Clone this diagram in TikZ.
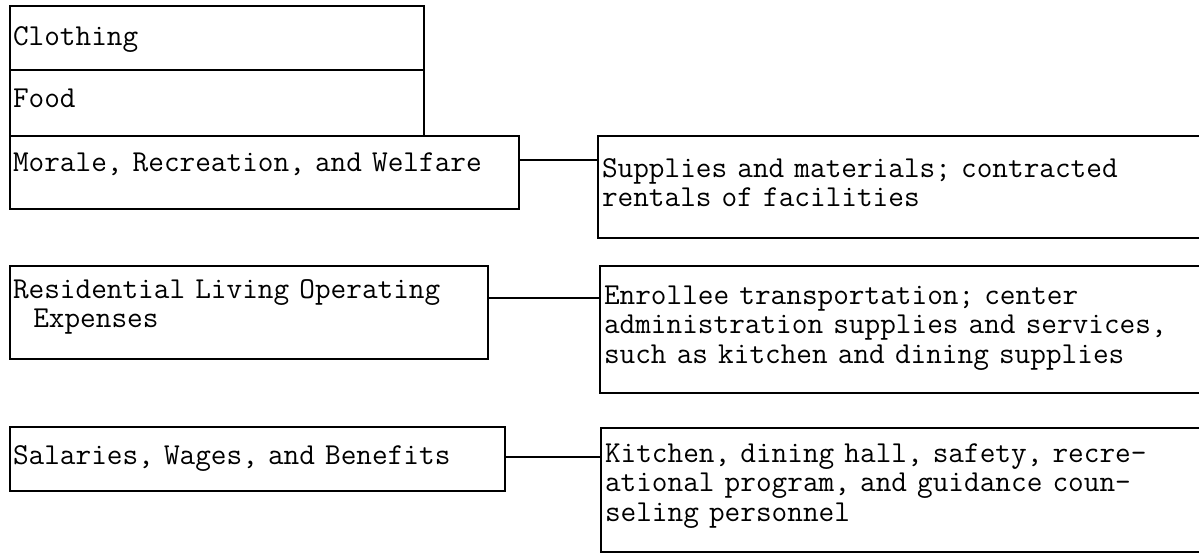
\documentclass[tikz,border=0pt]{standalone}
\usepackage{fontspec}

\begin{document}
\begin{tikzpicture}[
x=0.5pt,
y=-0.5pt,
font=\ttfamily\addfontfeature{FakeBold=1.2}\fontsize{15.2pt}{14.8pt}\selectfont,
leftbox/.style={
rectangle,
draw=black,
line width=1pt,
anchor=north west,
align=left,
inner xsep=1.5pt,
inner ysep=0pt
},
rightbox/.style={
rectangle,
draw=black,
line width=1pt,
anchor=north west,
align=left,
inner xsep=2pt,
inner ysep=0pt,
text width=312.5pt
},
link/.style={
-,
line width=1pt,
draw=black
}
]

\useasboundingbox (0,0) rectangle (1199,556);

\node[leftbox, text width=204pt, text height=20pt, text depth=12pt] (clothing) at (9,5)
{Clothing};

\node[leftbox, text width=204pt, text height=19pt, text depth=14pt] (food) at (9,69)
{Food};

\node[leftbox, text width=251.5pt, text height=17.5pt, text depth=19pt] (morale) at (9,135)
{Morale, Recreation, and Welfare};

\node[rightbox, text height=20.5pt, text depth=30.5pt] (supplies) at (597,135)
{Supplies and materials; contracted\\
rentals of facilities};

\node[leftbox, text width=236pt, text height=16pt, text depth=30.5pt] (residential) at (9,265)
{Residential Living Operating\\
\ \ Expenses};

\node[rightbox, text height=19pt, text depth=44.5pt] (enrollee) at (599,265)
{Enrollee transportation; center\\
administration supplies and services,\\
such as kitchen and dining supplies};

\node[leftbox, text width=244.5pt, text height=18.5pt, text depth=13.5pt] (salaries) at (9,426)
{Salaries, Wages, and Benefits};

\node[rightbox, text height=17pt, text depth=45pt] (kitchen) at (600,427)
{Kitchen, dining hall, safety, recre-\\
ational program, and guidance coun-\\
seling personnel};

\draw[link] ([yshift=-12.5pt]morale.north east) coordinate (m) -- (m -| supplies.west);
\draw[link] ([yshift=-16.5pt]residential.north east) coordinate (r) -- (r -| enrollee.west);
\draw[link] ([yshift=-15.5pt]salaries.north east) coordinate (s) -- (s -| kitchen.west);

\end{tikzpicture}
\end{document}
